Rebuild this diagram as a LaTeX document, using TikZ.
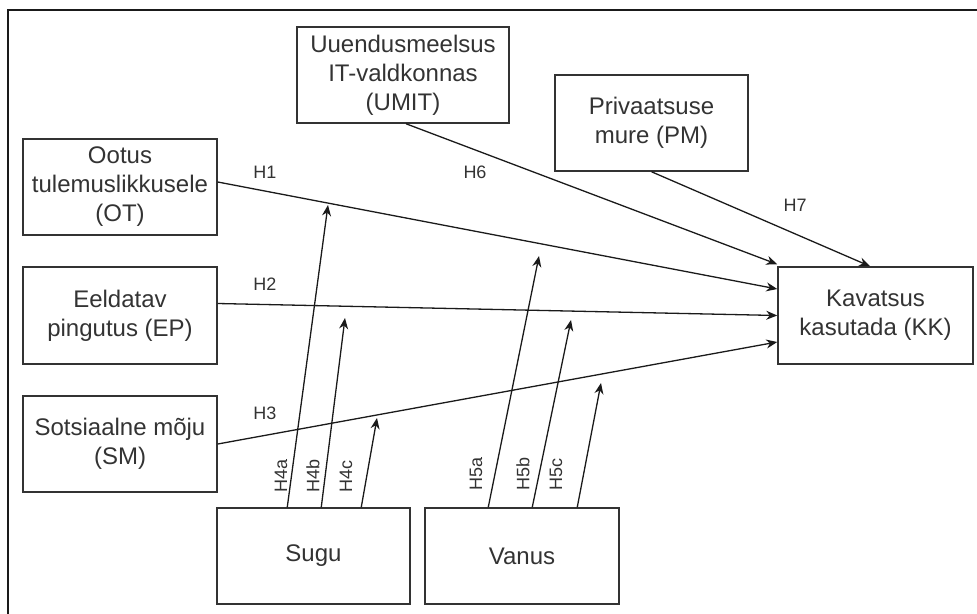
\documentclass[tikz,border=0pt]{standalone}
\usepackage{fontspec}
\setmainfont{Liberation Sans}
\usetikzlibrary{arrows.meta}
\definecolor{txt}{HTML}{333333}
\definecolor{ln}{HTML}{1A1A1A}
\begin{document}
\begin{tikzpicture}[x=1pt,y=-1pt,
  box/.style={draw=txt,line width=1.5pt,inner sep=0pt,align=center,text=txt,
    font=\fontsize{24}{29}\selectfont},
  lbl/.style={text=txt,inner sep=0pt,font=\fontsize{18}{20}\selectfont},
  conn/.style={draw=ln,line width=1.3pt,-{Stealth[length=11pt,width=9pt]}},
  frame/.style={draw=ln,line width=1.5pt}]
\useasboundingbox (0,0) rectangle (977,613);
\draw[frame] (8,620) -- (8,10) -- (980,10);

% boxes
\node[box,minimum width=194pt,minimum height=96pt] (OT) at (120,187) {Ootus\\tulemuslikkusele\\(OT)};
\node[box,minimum width=194pt,minimum height=97pt] (EP) at (120,315.5) {Eeldatav\\pingutus (EP)};
\node[box,minimum width=194pt,minimum height=96pt] (SM) at (120,444) {Sotsiaalne mõju\\(SM)};
\node[box,minimum width=212pt,minimum height=96pt] (UMIT) at (403,75) {Uuendusmeelsus\\IT-valdkonnas\\(UMIT)};
\node[box,minimum width=193pt,minimum height=96pt] (PM) at (651.5,123) {Privaatsuse\\mure (PM)};
\node[box,minimum width=195pt,minimum height=97pt] (KK) at (875.5,315.5) {Kavatsus\\kasutada (KK)};
\node[box,minimum width=193pt,minimum height=96pt] (Sugu) at (313.5,556) {Sugu};
\node[box,minimum width=194pt,minimum height=96pt] (Vanus) at (522,556) {Vanus};

% free ends of moderator arrows
\coordinate (t4a) at (328,205);
\coordinate (t4b) at (345,318);
\coordinate (t4c) at (377,418);
\coordinate (t5a) at (539,256);
\coordinate (t5b) at (571,320);
\coordinate (t5c) at (601,383);

% main connectors
\draw[conn] ([yshift=5pt]OT.east) -- ([yshift=26.5pt]KK.west);
\draw[conn] ([yshift=12pt]EP.east) -- (KK.west);
\draw[conn] (SM.east) -- ([yshift=-26.5pt]KK.west);
\draw[conn] ([xshift=3pt]UMIT.south) -- ([yshift=2pt]KK.north west);
\draw[conn] (PM.south) -- ([xshift=-5.5pt]KK.north);

% moderators
\draw[conn] ([xshift=71pt]Sugu.north west) -- (t4a);
\draw[conn] ([xshift=105pt]Sugu.north west) -- (t4b);
\draw[conn] ([xshift=145pt]Sugu.north west) -- (t4c);
\draw[conn] ([xshift=64pt]Vanus.north west) -- (t5a);
\draw[conn] ([xshift=108pt]Vanus.north west) -- (t5b);
\draw[conn] ([xshift=153pt]Vanus.north west) -- (t5c);

% labels
\node[lbl] (H1) at (265,172) {H1};
\node[lbl] (H2) at (265,284) {H2};
\node[lbl] (H3) at (265,413) {H3};
\node[lbl] (H6) at (475,172) {H6};
\node[lbl] (H7) at (795,205) {H7};
\node[lbl,rotate=90] (H4a) at (281,476) {H4a};
\node[lbl,rotate=90] (H4b) at (313,476) {H4b};
\node[lbl,rotate=90] (H4c) at (346,476) {H4c};
\node[lbl,rotate=90] (H5a) at (476,474) {H5a};
\node[lbl,rotate=90] (H5b) at (523,474) {H5b};
\node[lbl,rotate=90] (H5c) at (556,474) {H5c};
\end{tikzpicture}
\end{document}
